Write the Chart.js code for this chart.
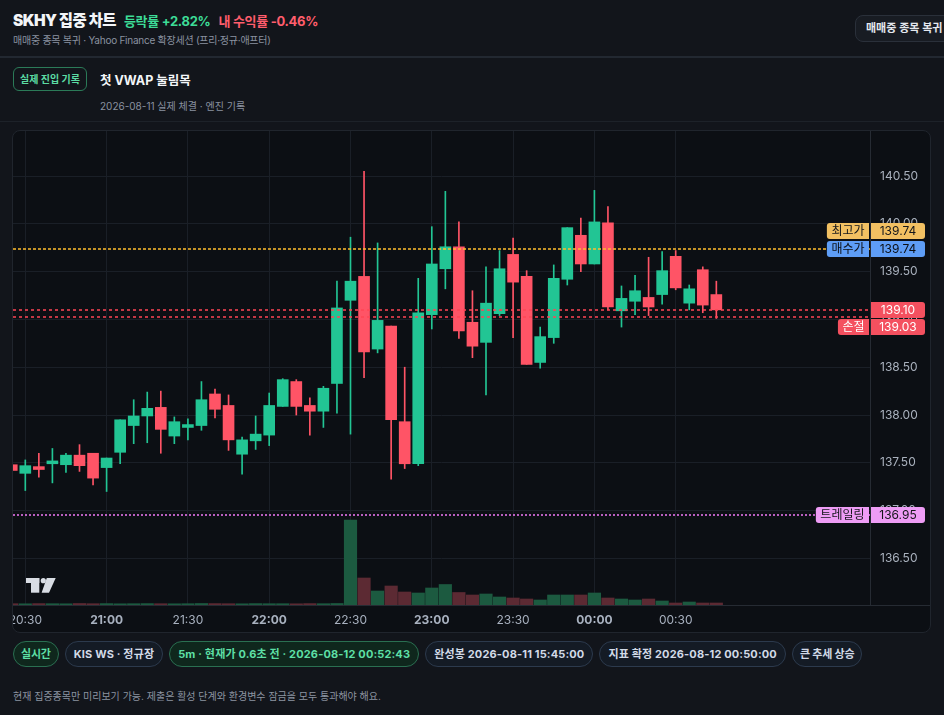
<!DOCTYPE html>
<html lang="ko">
<head>
<meta charset="utf-8">
<title>SKHY 집중 차트</title>
<script src="https://cdn.jsdelivr.net/npm/chart.js@4.4.1/dist/chart.umd.min.js"></script>
<style>
  * { box-sizing: border-box; }
  html, body { margin: 0; padding: 0; }
  body { width: 944px; height: 715px; overflow: hidden; position: relative; background: #12151b;
         font-family: Inter, "Noto Sans CJK KR", "Noto Sans", sans-serif; color: #e8ebf0; }
  .head { position: absolute; left: 0; top: 0; width: 944px; height: 58px; border-bottom: 2px solid #222831; }
  .title { position: absolute; left: 13px; top: 8px; white-space: nowrap; font-weight: 700; }
  .title b { font-size: 15.5px; color: #f3f5f8; letter-spacing: -0.6px; }
  .title .up { font-size: 13px; color: #3ddc97; margin-left: 8px; letter-spacing: -0.3px; }
  .title .dn { font-size: 13px; color: #ff5d6c; margin-left: 8px; letter-spacing: -0.3px; }
  .sub { position: absolute; left: 13px; top: 32px; font-size: 10px; color: #8a92a0; white-space: nowrap; letter-spacing: -0.25px; }
  .restore { position: absolute; left: 855px; top: 15px; height: 27px; padding: 0 10px; border: 1px solid #2a303a;
             border-radius: 8px; background: #181c23; color: #e4e8ee; font-size: 11px; font-weight: 600;
             line-height: 25px; white-space: nowrap; }
  .entry { position: absolute; left: 0; top: 58px; width: 944px; height: 64px; border-bottom: 1px solid #1d2229; }
  .tag { position: absolute; left: 13px; top: 9px; width: 74px; height: 24px; border: 1px solid #2b7a58; border-radius: 6px;
         color: #5cdca4; font-size: 10px; font-weight: 700; text-align: center; line-height: 22px; }
  .etitle { position: absolute; left: 100px; top: 12px; font-size: 12.5px; font-weight: 700; color: #f3f5f8; }
  .edate { position: absolute; left: 100px; top: 40px; font-size: 10px; color: #8a92a0; }
  .box { position: absolute; left: 12px; top: 130px; width: 919px; height: 503px; border: 1px solid #20252d;
         border-radius: 8px; overflow: hidden; background: #0c0f14; }
  canvas { display: block; }
  .badges { position: absolute; left: 13px; top: 641px; display: flex; gap: 6px; }
  .badge { height: 26px; line-height: 24px; padding: 0 8px; border-radius: 13px; border: 1px solid #2c3a4d;
           background: #141b25; color: #d2dae7; font-size: 11px; font-weight: 700; white-space: nowrap; letter-spacing: 0.15px; }
  .badge.g { border-color: #2a6f51; background: #0f271d; color: #5ddfa5; }
  .badge.s { padding: 0 7px; letter-spacing: -0.2px; }
  .note { position: absolute; left: 13px; top: 688px; font-size: 10px; color: #8c94a1; white-space: nowrap; }
</style>
</head>
<body>
<div class="head">
  <div class="title"><b>SKHY 집중 차트</b><span class="up">등락률 +2.82%</span><span class="dn">내 수익률 -0.46%</span></div>
  <div class="sub">매매중 종목 복귀 · Yahoo Finance 확장세션 (프리·정규·애프터)</div>
  <div class="restore">매매중 종목 복귀</div>
</div>
<div class="entry">
  <div class="tag">실제 진입 기록</div>
  <div class="etitle">첫 VWAP 눌림목</div>
  <div class="edate">2026-08-11 실제 체결 · 엔진 기록</div>
</div>
<div class="box"><canvas id="chart" width="917" height="501"></canvas></div>
<div class="badges">
  <div class="badge g s">실시간</div>
  <div class="badge">KIS WS · 정규장</div>
  <div class="badge g">5m · 현재가 0.6초 전 · 2026-08-12 00:52:43</div>
  <div class="badge">완성봉 2026-08-11 15:45:00</div>
  <div class="badge">지표 확정 2026-08-12 00:50:00</div>
  <div class="badge s">큰 추세 상승</div>
</div>
<div class="note">현재 집중종목만 미리보기 가능. 제출은 활성 단계와 환경변수 잠금을 모두 통과해야 해요.</div>

<script>
const times = ['20:25','20:30','20:35','20:40','20:45','20:50','20:55',
  '21:00','21:05','21:10','21:15','21:20','21:25','21:30','21:35','21:40','21:45','21:50','21:55',
  '22:00','22:05','22:10','22:15','22:20','22:25','22:30','22:35','22:40','22:45','22:50','22:55',
  '23:00','23:05','23:10','23:15','23:20','23:25','23:30','23:35','23:40','23:45','23:50','23:55',
  '00:00','00:05','00:10','00:15','00:20','00:25','00:30','00:35','00:40','00:45'];

const opens = [137.48,137.39,137.46,137.49,137.48,137.58,137.60,137.45,137.61,137.89,137.99,138.08,137.78,
  137.87,137.89,138.22,138.10,137.59,137.73,137.79,138.09,138.35,138.10,138.04,138.33,139.20,139.45,138.69,
  138.93,137.93,137.49,139.05,139.53,139.76,138.97,138.76,139.06,139.68,139.45,138.55,138.81,139.42,139.88,
  139.58,140.01,139.09,139.19,139.23,139.26,139.66,139.17,139.52,139.26];
const highs = [137.50,137.53,137.60,137.65,137.60,137.69,137.60,137.55,137.95,138.16,138.24,138.25,137.98,
  137.96,138.35,138.27,138.21,137.77,137.99,138.23,138.38,138.37,138.18,138.30,139.40,139.86,140.55,139.80,
  138.93,138.50,139.43,139.97,140.34,140.02,139.30,139.55,139.72,139.85,139.51,138.92,139.57,139.96,140.06,
  140.35,140.18,139.35,139.46,139.65,139.71,139.72,139.36,139.55,139.40];
const lows = [137.40,137.21,137.35,137.29,137.40,137.41,137.27,137.20,137.49,137.70,137.71,137.60,137.70,
  137.74,137.84,137.97,137.63,137.38,137.64,137.68,138.09,138.00,137.79,137.87,138.02,137.80,138.39,138.65,
  137.33,137.44,137.47,138.90,139.32,138.80,138.60,138.21,139.04,138.81,138.53,138.49,138.75,139.36,139.50,
  139.58,139.10,138.92,139.05,139.04,139.16,139.31,139.10,139.07,139.01];
const closes = [137.42,137.47,137.43,137.52,137.58,137.47,137.34,137.55,137.95,137.99,138.07,137.85,137.93,
  137.90,138.16,138.06,137.74,137.74,137.80,138.10,138.37,138.09,138.04,138.28,139.12,139.40,138.66,138.99,
  137.95,137.49,139.07,139.58,139.76,138.88,138.72,139.17,139.53,139.39,138.53,138.82,139.43,139.96,139.58,
  140.02,139.13,139.22,139.30,139.13,139.51,139.33,139.32,139.15,139.10];
const volumes = [130,120,140,130,120,150,130,140,120,130,140,130,120,130,150,140,130,120,140,130,130,120,140,130,150,
  8500,2700,1400,1900,1300,1200,1700,2050,1250,1000,1100,800,700,600,500,1000,1000,1000,1200,700,600,500,600,
  400,200,300,200,200];

const timeTicks = ['20:30','21:00','21:30','22:00','22:30','23:00','23:30','00:00','00:30'];

// price levels shown on the right axis (placement order matters for label stacking)
const levelNames = ['매수가', '', '최고가', '손절', '트레일링'];
const levelPrices = [139.74, 139.10, 139.74, 139.03, 136.95];

const levelStyles = [
  { line: null,      dash: [3, 2], box: '#5e9df6', text: '#0b0e13' },
  { line: '#ff4656', dash: [3, 3], box: '#f4505f', text: '#ffffff' },
  { line: '#ffbe2e', dash: [3, 2], box: '#f2c062', text: '#14161a' },
  { line: '#ff4656', dash: [3, 3], box: '#f4505f', text: '#ffffff' },
  { line: '#f27af7', dash: [2, 2], box: '#ee9cf5', text: '#14161a' }
];

const UP = '#22c594', DN = '#ff5466';
const VUP = '#1c5a40', VDN = '#5c2a33';

// minutes since 20:30 (wraps past midnight)
const toMin = t => {
  const [h, m] = t.split(':').map(Number);
  let v = h * 60 + m - (20 * 60 + 30);
  if (v < -60) v += 1440;
  return v;
};
const isUp = i => closes[i] >= opens[i];

const FONT = 'Inter, "Noto Sans CJK KR", sans-serif';

const overlay = {
  id: 'overlay',
  afterDatasetsDraw(chart) {
    const { ctx, chartArea: a, scales: { y } } = chart;
    ctx.save();
    ctx.beginPath();
    ctx.rect(a.left, a.top, a.right - a.left, a.bottom - a.top);
    ctx.clip();
    levelPrices.forEach((p, i) => {
      const st = levelStyles[i];
      if (!st.line) return;
      const py = Math.round(y.getPixelForValue(p));
      ctx.strokeStyle = st.line;
      ctx.lineWidth = 1.3;
      ctx.setLineDash(st.dash);
      ctx.beginPath();
      ctx.moveTo(a.left, py);
      ctx.lineTo(a.right, py);
      ctx.stroke();
    });
    ctx.restore();
  },
  afterDraw(chart) {
    const { ctx, chartArea: a, scales: { y } } = chart;
    ctx.save();
    // bottom separator under the price axis
    ctx.strokeStyle = '#262b33';
    ctx.lineWidth = 1;
    ctx.beginPath();
    ctx.moveTo(a.right, Math.round(a.bottom) + 0.5);
    ctx.lineTo(chart.width, Math.round(a.bottom) + 0.5);
    ctx.stroke();

    // axis labels, pushed apart when they collide
    const placed = [];
    const H = 16;
    ctx.font = '12px ' + FONT;
    ctx.textBaseline = 'middle';
    levelPrices.forEach((p, i) => {
      const st = levelStyles[i];
      let cy = y.getPixelForValue(p);
      let moved = true;
      while (moved) {
        moved = false;
        for (const q of placed) {
          if (Math.abs(cy - q.cy) < H + 1) {
            cy = p >= q.p ? q.cy - (H + 1.5) : q.cy + (H + 1.5);
            moved = true;
          }
        }
      }
      placed.push({ cy, p });
      const top = Math.round(cy - H / 2);
      ctx.fillStyle = st.box;
      ctx.beginPath();
      ctx.roundRect(a.right + 1, top, 54, H, [0, 3, 3, 0]);
      ctx.fill();
      ctx.fillStyle = st.text;
      ctx.textAlign = 'center';
      ctx.fillText(p.toFixed(2), a.right + 28, top + H / 2 + 0.5);
      if (levelNames[i]) {
        const w = ctx.measureText(levelNames[i]).width + 9;
        ctx.fillStyle = st.box;
        ctx.beginPath();
        ctx.roundRect(a.right - 1 - w, top, w, H, [3, 0, 0, 3]);
        ctx.fill();
        ctx.fillStyle = st.text;
        ctx.fillText(levelNames[i], a.right - 1 - w / 2, top + H / 2 + 0.5);
      }
    });

    // small logo mark, bottom-left of the pane
    const lx = a.left + 13, ly = a.bottom - 27;
    ctx.fillStyle = '#d9dde4';
    ctx.fillRect(lx, ly, 13.3, 5);
    ctx.fillRect(lx + 5, ly, 8.3, 14.7);
    ctx.beginPath();
    ctx.arc(lx + 17.3, ly + 2.7, 2.6, 0, Math.PI * 2);
    ctx.fill();
    ctx.beginPath();
    ctx.moveTo(lx + 20.8, ly);
    ctx.lineTo(lx + 29.7, ly);
    ctx.lineTo(lx + 23, ly + 14.7);
    ctx.lineTo(lx + 15.6, ly + 14.7);
    ctx.closePath();
    ctx.fill();
    ctx.restore();
  }
};

const ctx = document.getElementById('chart').getContext('2d');
new Chart(ctx, {
  type: 'bar',
  data: {
    datasets: [
      {
        label: 'volume',
        data: times.map((t, i) => ({ x: toMin(t), y: volumes[i] })),
        backgroundColor: times.map((t, i) => isUp(i) ? VUP : VDN),
        barThickness: 12.5,
        grouped: false,
        yAxisID: 'yv',
        order: 3
      },
      {
        label: 'wick',
        data: times.map((t, i) => ({ x: toMin(t), y: [lows[i], highs[i]] })),
        backgroundColor: times.map((t, i) => isUp(i) ? UP : DN),
        barThickness: 1,
        grouped: false,
        order: 2
      },
      {
        label: 'body',
        data: times.map((t, i) => ({ x: toMin(t), y: [opens[i], closes[i]] })),
        backgroundColor: times.map((t, i) => isUp(i) ? UP : DN),
        barThickness: 11,
        minBarLength: 1,
        grouped: false,
        order: 1
      }
    ]
  },
  options: {
    responsive: false,
    animation: false,
    layout: { padding: 0 },
    plugins: { legend: { display: false }, tooltip: { enabled: false } },
    scales: {
      x: {
        type: 'linear',
        min: -4.539,
        max: 311.7,
        offset: false,
        grid: { color: '#1a1f27', drawTicks: false, offset: false },
        border: { color: '#262b33' },
        afterBuildTicks: s => { s.ticks = timeTicks.map(t => ({ value: toMin(t) })); },
        afterFit: s => { s.height = 27; s.paddingLeft = 0; s.paddingRight = 0; },
        ticks: {
          autoSkip: false,
          maxRotation: 0,
          padding: 8,
          color: '#a8b1bf',
          font: c => ({ family: FONT, size: 12, weight: (c.tick && c.tick.value % 60 === 30) ? '700' : '400' }),
          callback: v => {
            const t = timeTicks.find(s => toMin(s) === v);
            return t || '';
          }
        }
      },
      y: {
        type: 'linear',
        position: 'right',
        min: 136.0126,
        max: 140.971,
        grid: { color: '#1a1f27', drawTicks: false },
        border: { color: '#262b33' },
        afterFit: s => { s.width = 60; s.paddingTop = 0; s.paddingBottom = 0; },
        ticks: {
          stepSize: 0.5,
          includeBounds: false,
          padding: 10,
          color: '#aab2be',
          font: { family: FONT, size: 12 },
          callback: v => Number(v).toFixed(2)
        }
      },
      yv: {
        type: 'linear',
        display: false,
        min: 0,
        max: 47400
      }
    }
  },
  plugins: [overlay]
});
</script>
</body>
</html>
